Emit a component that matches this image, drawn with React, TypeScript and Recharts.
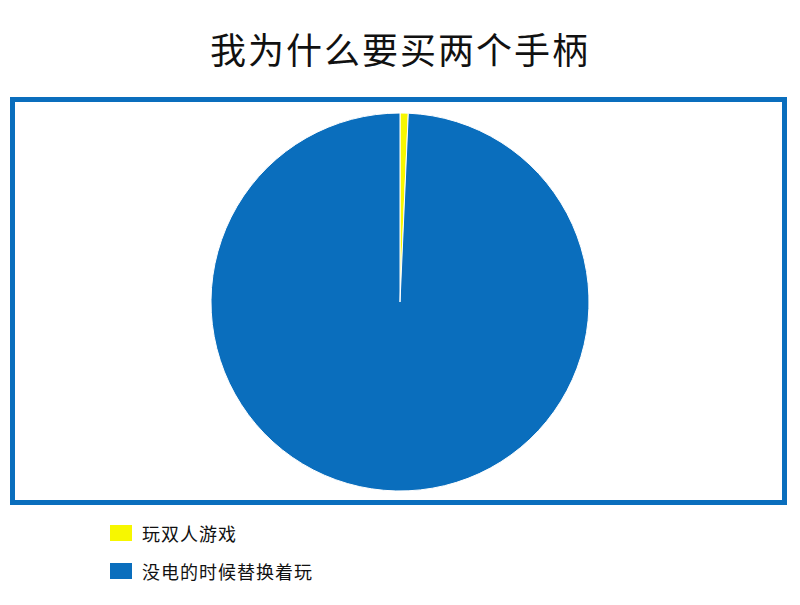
import { Cell, Legend, Pie, PieChart } from "recharts";

const TITLE = "我为什么要买两个手柄";
const REASONS = ["玩双人游戏", "没电的时候替换着玩"];
const SHARES = [0.7, 99.3];
const COLORS = ["#F7F700", "#0A6EBD"];

const FONT = '"Noto Sans CJK SC", "Noto Sans", sans-serif';

const data = REASONS.map((name, i) => ({ name, value: SHARES[i] }));

function LegendBox() {
  return (
    <div style={{ fontFamily: FONT }}>
      {data.map((d, i) => (
        <div
          key={d.name}
          style={{ display: "flex", alignItems: "center", height: 38, fontSize: 18, color: "#111", letterSpacing: 1 }}
        >
          <span style={{ width: 22, height: 16, background: COLORS[i], marginRight: 10, display: "inline-block" }} />
          <span>{d.name}</span>
        </div>
      ))}
    </div>
  );
}

export default function App() {
  return (
    <div style={{ position: "relative", width: 800, height: 605, margin: -8, background: "#fff", overflow: "hidden" }}>
      <div
        style={{
          position: "absolute",
          top: 22,
          left: 0,
          width: 800,
          textAlign: "center",
          fontFamily: FONT,
          fontSize: 36,
          fontWeight: 400,
          letterSpacing: 2,
          color: "#111",
        }}
      >
        {TITLE}
      </div>
      <div
        style={{
          position: "absolute",
          left: 10,
          top: 97,
          width: 777,
          height: 408,
          border: "5px solid #0A6EBD",
          boxSizing: "border-box",
        }}
      />
      <div style={{ position: "absolute", left: 0, top: 0 }}>
        <PieChart width={800} height={605} margin={{ top: 0, right: 0, bottom: 0, left: 0 }}>
          <Pie
            data={data}
            dataKey="value"
            nameKey="name"
            cx={400}
            cy={302}
            outerRadius={189}
            startAngle={90}
            endAngle={-270}
            stroke="#fff"
            strokeWidth={1}
            isAnimationActive={false}
          >
            {data.map((_, i) => (
              <Cell key={i} fill={COLORS[i]} />
            ))}
          </Pie>
          <Legend
            content={() => <LegendBox />}
            wrapperStyle={{ position: "absolute", left: 110, top: 514, width: 400 }}
          />
        </PieChart>
      </div>
    </div>
  );
}
